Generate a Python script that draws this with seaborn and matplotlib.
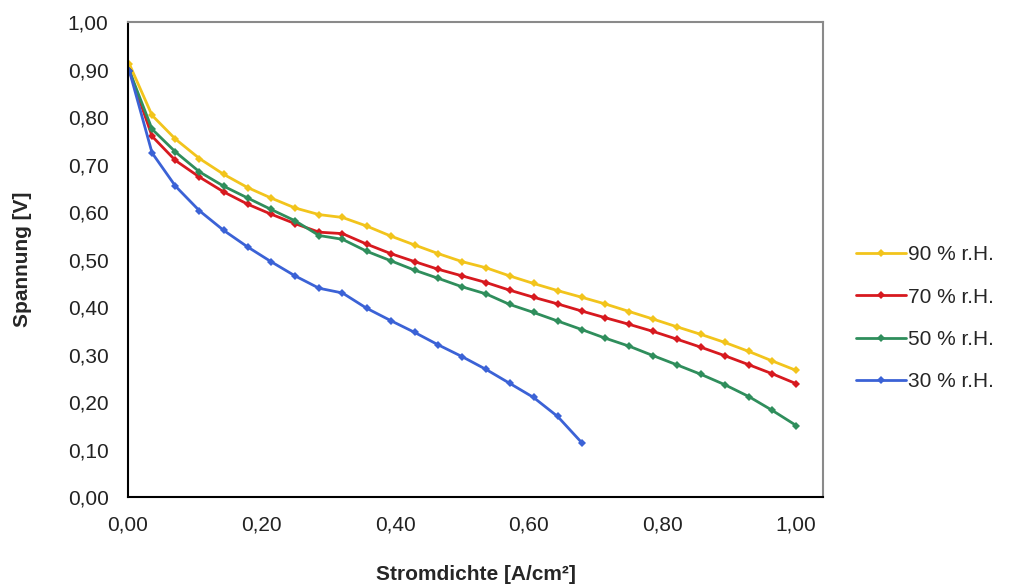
import numpy as np
import pandas as pd
import matplotlib
matplotlib.use("Agg")
import matplotlib.pyplot as plt
from matplotlib.ticker import FuncFormatter, MultipleLocator
import seaborn as sns

# ── Data ──────────────────────────────────────────────────────
stromdichte = [0.002, 0.036, 0.071, 0.107, 0.143, 0.179, 0.214, 0.250, 0.286, 0.321,
               0.357, 0.393, 0.429, 0.464, 0.500, 0.536, 0.571, 0.607, 0.643, 0.679,
               0.714, 0.750, 0.786, 0.821, 0.857, 0.893, 0.929, 0.964, 1.000]

u_90 = [0.912, 0.804, 0.754, 0.713, 0.680, 0.652, 0.630, 0.609, 0.595, 0.589,
        0.571, 0.550, 0.531, 0.513, 0.496, 0.483, 0.466, 0.450, 0.435, 0.421,
        0.407, 0.391, 0.375, 0.359, 0.343, 0.326, 0.307, 0.287, 0.267]
u_70 = [0.898, 0.760, 0.709, 0.674, 0.643, 0.617, 0.596, 0.576, 0.558, 0.555,
        0.533, 0.513, 0.496, 0.480, 0.466, 0.452, 0.436, 0.421, 0.407, 0.392,
        0.378, 0.364, 0.349, 0.333, 0.316, 0.298, 0.279, 0.260, 0.239]
u_50 = [0.898, 0.775, 0.727, 0.685, 0.655, 0.630, 0.606, 0.582, 0.551, 0.543,
        0.518, 0.498, 0.478, 0.461, 0.443, 0.428, 0.406, 0.389, 0.371, 0.353,
        0.335, 0.318, 0.298, 0.279, 0.259, 0.237, 0.212, 0.183, 0.151]
u_30 = [0.898, 0.725, 0.655, 0.603, 0.562, 0.527, 0.496, 0.466, 0.440, 0.430,
        0.398, 0.372, 0.347, 0.321, 0.296, 0.269, 0.240, 0.210, 0.170, 0.115]

labels = ["90 % r.H.", "70 % r.H.", "50 % r.H.", "30 % r.H."]
series = [u_90, u_70, u_50, u_30]
colors = ["#F2C41C", "#D7191F", "#2F8E5C", "#3B62D6"]

frames = []
for lab, vals in zip(labels, series):
    frames.append(pd.DataFrame({"Stromdichte": stromdichte[:len(vals)],
                                "Spannung": vals, "Feuchte": lab}))
df = pd.concat(frames, ignore_index=True)

sns.set_style("white")
plt.rcParams["font.family"] = ["Liberation Sans", "DejaVu Sans"]

fig = plt.figure(figsize=(10.11, 5.85), dpi=100)
ax = fig.add_axes([0.1266, 0.150, 0.6874, 0.812])

for lab, col in zip(labels, colors):
    sns.lineplot(data=df[df["Feuchte"] == lab], x="Stromdichte", y="Spannung",
                 color=col, marker="D", markersize=4.5, markeredgewidth=0,
                 linewidth=2, label=lab, ax=ax, sort=False)

ax.set_xlim(0, 1.04)
ax.set_ylim(0, 1.0)
ax.xaxis.set_major_locator(MultipleLocator(0.2))
ax.yaxis.set_major_locator(MultipleLocator(0.1))
comma = FuncFormatter(lambda v, p: f"{v:.2f}".replace(".", ","))
ax.xaxis.set_major_formatter(comma)
ax.yaxis.set_major_formatter(comma)
ax.tick_params(axis="both", direction="in", length=6, width=1, colors="black",
               labelsize=15, labelcolor="#222222")
ax.tick_params(axis="y", pad=14)
ax.tick_params(axis="x", pad=13)

for side in ["left", "bottom"]:
    ax.spines[side].set_color("black")
    ax.spines[side].set_linewidth(1.5)
for side in ["top", "right"]:
    ax.spines[side].set_visible(True)
    ax.spines[side].set_color("#8a8a8a")
    ax.spines[side].set_linewidth(1.5)

ax.set_xlabel("Stromdichte [A/cm²]", fontsize=15, fontweight="bold", labelpad=22)
ax.set_ylabel("Spannung [V]", fontsize=15, fontweight="bold", labelpad=26)

ax.legend(loc="center left", bbox_to_anchor=(1.035, 0.377), frameon=False,
          fontsize=15, handlelength=2.4, handletextpad=0.1, labelspacing=1.12,
          borderaxespad=0)

fig.savefig("out.png", dpi=100, facecolor="white")
